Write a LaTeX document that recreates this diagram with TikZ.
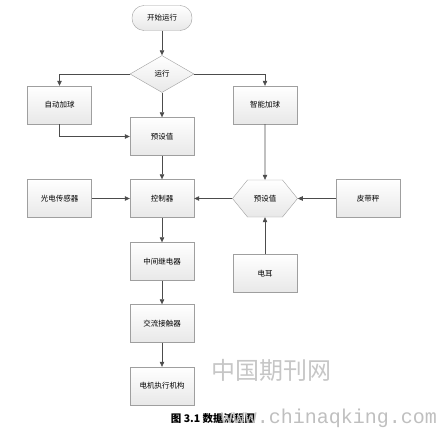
\documentclass[tikz,border=0pt]{standalone}
\usepackage{fontspec}
\setmainfont{Noto Sans CJK SC}
\newfontfamily\urlfont{Liberation Mono}
\usetikzlibrary{arrows.meta,positioning,shapes.geometric,shapes.symbols}

\begin{document}
\begin{tikzpicture}[x=1pt,y=-1pt,every node/.style={font=\fontsize{7.5}{8}\selectfont},
  box/.style={draw=gray!75,top color=white,bottom color=gray!18,minimum width=64pt,minimum height=38pt,inner sep=1pt},
  decide/.style={diamond,draw=gray!75,top color=white,bottom color=gray!18,aspect=1.73,minimum width=64pt,minimum height=37pt,inner sep=0pt},
  hexa/.style={signal,signal to=west and east,signal pointer angle=102,draw=gray!75,top color=white,bottom color=gray!18,minimum width=65pt,minimum height=37pt,inner sep=0pt},
  term/.style={draw=gray!75,rounded corners=12pt,top color=white,bottom color=gray!18,minimum width=60pt,minimum height=25pt},
  flow/.style={draw=gray!60!black,line width=0.6pt,-{Triangle[length=5pt,width=4.5pt]}}]
\useasboundingbox (0,0) rectangle (438,428);
% start and branch
\node[term] (start) at (162,18) {开始运行};
\node[decide] (run) at (162,74) {运行};
\node[box] (auto) at (59.5,105) {自动加球};
\node[box] (smart) at (265,105) {智能加球};
\node[box] (preset) at (162,136.5) {预设值};
% control row
\node[box] (sensor) at (59.5,198.5) {光电传感器};
\node[box] (ctrl) at (162,198.5) {控制器};
\node[hexa] (preset2) at (265,198.5) {预设值};
\node[box] (belt) at (368,198.5) {皮带秤};
% output chain
\node[box] (relay) at (162,261.5) {中间继电器};
\node[box] (ear) at (265,273.5) {电耳};
\node[box] (contact) at (162,323.5) {交流接触器};
\node[box] (motor) at (162,386) {电机执行机构};
% connectors
\draw[flow] (start) -- (run);
\draw[flow] (run.west) -| (auto.north); \draw[flow] (run.east) -| (smart.north);
\draw[flow] (run) -- (preset); \draw[flow] (auto.south) |- (preset.west);
\draw[flow] (preset) -- (ctrl); \draw[flow] (sensor) -- (ctrl);
\draw[flow] (preset2) -- (ctrl); \draw[flow] (belt) -- (preset2);
\draw[flow] (smart) -- (preset2); \draw[flow] (ear) -- (preset2);
\draw[flow] (ctrl) -- (relay); \draw[flow] (relay) -- (contact); \draw[flow] (contact) -- (motor);
% caption and watermark
\node[font=\fontsize{10.5}{11}\selectfont\bfseries] (cap) at (213,419) {图 3.1 数据流程图};
\node[text=gray!45,font=\fontsize{24}{26}\selectfont] (wm) at (271,370) {中国期刊网};
\node[text=gray!50,font=\urlfont\fontsize{20}{21}\selectfont,anchor=base east,inner sep=0pt] (url) at (437,423) {www.chinaqking.com};
\end{tikzpicture}
\end{document}
